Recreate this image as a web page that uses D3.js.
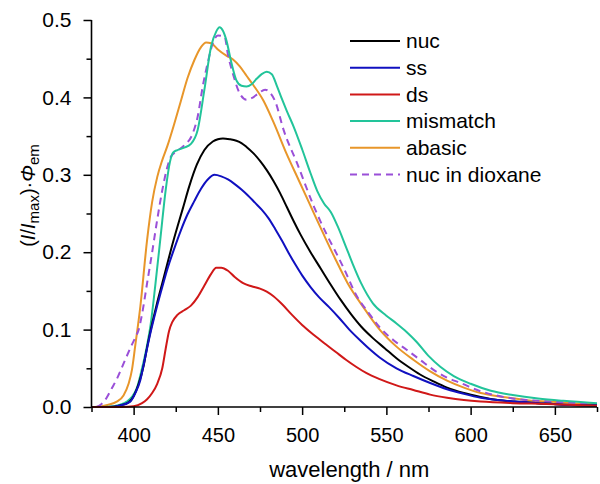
<!DOCTYPE html>
<html>
<head>
<meta charset="utf-8">
<script src="https://cdn.jsdelivr.net/npm/d3@7"></script>
<style>
  html, body { margin: 0; padding: 0; background: #fff; }
  svg { display: block; font-family: "Liberation Sans", Arial, sans-serif; }
</style>
</head>
<body>
<svg id="chart" width="600" height="484"></svg>
<script>
// ---- data (wavelength nm, (I/Imax)·Φem) ----
const seriesNames = ["nuc", "ss", "ds", "mismatch", "abasic", "nuc in dioxane"];
const seriesColors = ["#000000", "#1010c0", "#d01818", "#22c49a", "#e8962a", "#9a4fd8"];

const nuc = [[375,0],[385,0],[392,0.002],[397,0.006],[400,0.014],[403,0.03],[406,0.054],[408,0.077],[410,0.098],[412,0.117],[414,0.135],[417,0.16],[420,0.185],[423,0.21],[426,0.233],[429,0.255],[433,0.285],[437.5,0.313],[442,0.332],[447,0.343],[450,0.346],[453,0.347],[457,0.346],[461,0.344],[464,0.341],[467,0.336],[471,0.328],[475,0.318],[479,0.306],[483,0.292],[487,0.276],[491,0.258],[495,0.24],[499,0.223],[505,0.2],[511,0.179],[517,0.158],[523,0.138],[529,0.12],[535,0.104],[542,0.089],[549,0.076],[556,0.063],[563,0.052],[570,0.042],[578,0.033],[586,0.025],[596,0.018],[606,0.013],[616,0.009],[626,0.007],[640,0.005],[655,0.003],[675,0.002]];

const ss = [[375,0],[385,0],[392,0.002],[398,0.007],[401,0.018],[404,0.035],[406,0.055],[408,0.076],[410,0.096],[412,0.114],[414,0.131],[417,0.155],[420,0.178],[424,0.204],[428,0.228],[432,0.249],[436,0.266],[440,0.282],[444,0.294],[448,0.3],[452,0.298],[456,0.294],[460,0.288],[464,0.281],[468,0.273],[472,0.264],[476,0.255],[480,0.244],[484,0.23],[488,0.215],[492,0.199],[496,0.184],[500,0.17],[505,0.155],[510,0.142],[516,0.129],[522,0.115],[528,0.1],[535,0.085],[541,0.073],[546,0.064],[556,0.05],[566,0.04],[576,0.031],[586,0.023],[596,0.017],[606,0.012],[616,0.009],[626,0.007],[640,0.005],[655,0.003],[675,0.002]];

const ds = [[375,0],[393,0],[400,0.001],[405,0.005],[408,0.01],[411,0.018],[414,0.03],[417,0.05],[419,0.075],[421,0.098],[423,0.11],[426,0.119],[430,0.125],[434,0.131],[438,0.142],[442,0.157],[446,0.172],[449,0.18],[452,0.18],[456,0.176],[460,0.168],[465,0.16],[470,0.156],[475,0.153],[479,0.149],[483,0.143],[488,0.133],[494,0.119],[500,0.106],[507,0.093],[514,0.081],[520,0.071],[526,0.061],[532,0.052],[538,0.044],[546,0.036],[556,0.028],[566,0.022],[576,0.016],[586,0.012],[596,0.009],[606,0.007],[625,0.005],[645,0.004],[675,0.0015]];

const mismatch = [[375,0],[382,0],[388,0.001],[392,0.003],[396,0.007],[399,0.013],[402,0.025],[405,0.05],[408,0.08],[410,0.105],[413,0.16],[416,0.22],[419,0.28],[421.6,0.317],[423.5,0.329],[426,0.332],[430,0.335],[434,0.34],[438,0.358],[442,0.41],[446,0.466],[449,0.485],[451,0.4905],[453,0.486],[455,0.474],[458,0.445],[461,0.422],[464,0.415],[467,0.414],[470,0.417],[473,0.424],[476,0.43],[479,0.433],[482,0.43],[485,0.415],[488,0.398],[491,0.382],[495,0.362],[500,0.333],[505,0.302],[509,0.279],[513,0.263],[517,0.252],[521,0.234],[526,0.207],[530,0.185],[535,0.16],[542,0.134],[550,0.118],[556,0.108],[562,0.097],[568,0.084],[575,0.066],[582,0.052],[590,0.04],[600,0.03],[612,0.021],[625,0.0155],[640,0.011],[655,0.008],[675,0.005]];

const abasic = [[375,0],[377,0],[385,0.003],[390,0.007],[394,0.015],[397,0.03],[399,0.048],[401,0.08],[404,0.13],[408,0.216],[411,0.265],[414,0.297],[417,0.319],[420,0.337],[424,0.365],[428,0.395],[432,0.425],[436,0.448],[440,0.465],[443,0.471],[446,0.47],[450,0.462],[455,0.454],[459,0.449],[463,0.44],[467,0.428],[471,0.416],[477,0.396],[483,0.368],[491,0.326],[498,0.293],[506,0.255],[513,0.222],[520,0.19],[527,0.16],[536,0.13],[546,0.1],[556,0.078],[566,0.061],[576,0.046],[586,0.034],[596,0.025],[606,0.018],[616,0.014],[626,0.011],[636,0.008],[646,0.007],[660,0.005],[675,0.004]];

const dioxane = [[378,0],[381,0.004],[384,0.012],[387,0.024],[390,0.036],[394,0.056],[398,0.076],[401,0.09],[403,0.1],[405,0.12],[408,0.16],[411,0.2],[414,0.242],[417,0.28],[420,0.31],[422,0.323],[426,0.331],[430,0.338],[435,0.353],[438,0.375],[441,0.414],[444,0.445],[447,0.47],[450,0.48],[454,0.478],[456,0.455],[459,0.43],[463,0.405],[467,0.397],[470,0.399],[474,0.405],[478,0.41],[481,0.406],[484,0.395],[489,0.358],[497,0.315],[507,0.259],[515,0.221],[520,0.2],[525,0.178],[532,0.145],[540,0.12],[546,0.103],[555,0.085],[562,0.074],[570,0.061],[578,0.048],[586,0.038],[594,0.031],[605,0.021],[615,0.015],[625,0.011],[640,0.008],[655,0.006],[675,0.004]];

const seriesData = [nuc, ss, ds, mismatch, abasic, dioxane];

const xMajorTicks = [400, 450, 500, 550, 600, 650];
const xMinorTicks = [375, 425, 475, 525, 575, 625, 675];
const yMajorTicks = [0.0, 0.1, 0.2, 0.3, 0.4, 0.5];
const yMinorTicks = [0.05, 0.15, 0.25, 0.35, 0.45];

// ---- layout ----
const svg = d3.select("#chart");
const x = d3.scaleLinear().domain([375, 675]).range([91.5, 597]);
const y = d3.scaleLinear().domain([0, 0.5]).range([407, 20]);

// curves
const line = d3.line().x(d => x(d[0])).y(d => y(d[1])).curve(d3.curveMonotoneX);
const drawOrder = [4, 5, 3, 0, 1, 2];
drawOrder.forEach(i => {
  svg.append("path")
    .datum(seriesData[i])
    .attr("fill", "none")
    .attr("stroke", seriesColors[i])
    .attr("stroke-width", 2)
    .attr("stroke-dasharray", i === 5 ? "7,5" : null)
    .attr("stroke-linejoin", "round")
    .attr("d", line);
});

// axes
const fontSize = 20;
const xAxis = d3.axisBottom(x).tickValues(xMajorTicks).tickSize(8).tickPadding(13).tickFormat(d3.format("d"));
const gx = svg.append("g").attr("transform", `translate(0,${y(0)})`).call(xAxis);
const xMinor = d3.axisBottom(x).tickValues(xMinorTicks).tickSize(5).tickFormat("");
const gxm = svg.append("g").attr("transform", `translate(0,${y(0)})`).call(xMinor);

const yAxis = d3.axisLeft(y).tickValues(yMajorTicks).tickSize(8).tickPadding(12).tickFormat(d3.format(".1f"));
const gy = svg.append("g").attr("transform", `translate(${x(375)},0)`).call(yAxis);
const yMinor = d3.axisLeft(y).tickValues(yMinorTicks).tickSize(5).tickFormat("");
const gym = svg.append("g").attr("transform", `translate(${x(375)},0)`).call(yMinor);

[gx, gxm, gy, gym].forEach(g => {
  g.select(".domain").attr("stroke", "#000").attr("stroke-width", 1.6);
  g.selectAll(".tick line").attr("stroke", "#000").attr("stroke-width", 1.5);
  g.selectAll("text").attr("font-size", fontSize).attr("fill", "#000")
    .attr("font-family", "'Liberation Sans', Arial, sans-serif");
});
gy.selectAll("text").attr("font-size", 21);
gxm.select(".domain").remove();
gym.select(".domain").remove();
gx.select(".domain").attr("d", `M${x(375)},0H${x(675)}`);
gy.select(".domain").attr("d", `M0,${y(0)}V${y(0.5)}`);

// x axis title
svg.append("text")
  .attr("x", (x(375) + x(675)) / 2 + 5)
  .attr("y", 477)
  .attr("text-anchor", "middle")
  .attr("font-size", 22)
  .text("wavelength / nm");

// y axis title
const yt = svg.append("text")
  .attr("transform", `translate(35,${(y(0) + y(0.5)) / 2 - 18}) rotate(-90)`)
  .attr("text-anchor", "middle")
  .attr("font-size", 20);
yt.append("tspan").text("(");
yt.append("tspan").attr("font-style", "italic").text("I");
yt.append("tspan").text("/");
yt.append("tspan").attr("font-style", "italic").text("I");
yt.append("tspan").attr("font-size", 15).attr("dy", 4).text("max");
yt.append("tspan").attr("dy", -4).text(")\u00B7");
yt.append("tspan").attr("font-style", "italic").text("\u03A6");
yt.append("tspan").attr("font-size", 15).attr("dy", 4).text("em");

// legend
const legend = svg.append("g");
seriesNames.forEach((name, i) => {
  const ly = 41 + i * 26.7;
  legend.append("line")
    .attr("x1", 350).attr("x2", 400).attr("y1", ly).attr("y2", ly)
    .attr("stroke", seriesColors[i]).attr("stroke-width", 2)
    .attr("stroke-dasharray", i === 5 ? "7,5" : null);
  legend.append("text")
    .attr("x", 406).attr("y", ly).attr("dy", "0.35em")
    .attr("font-size", 21)
    .text(name);
});
</script>
</body>
</html>
